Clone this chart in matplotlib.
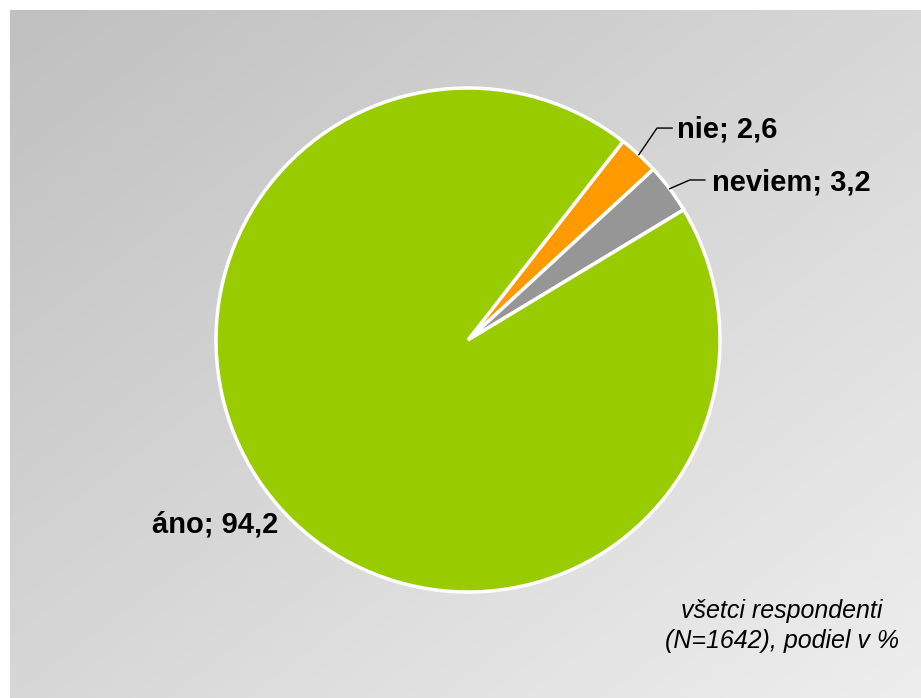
import numpy as np
import matplotlib
matplotlib.use('Agg')
import matplotlib.pyplot as plt

plt.rcParams['font.family'] = ['Liberation Sans', 'DejaVu Sans']

# Data
labels = ['nie', 'neviem', 'áno']
values = [2.6, 3.2, 94.2]
colors = ['#ff9900', '#969696', '#99cc00']
note = 'všetci respondenti\n(N=1642), podiel v %'

W, H = 921, 698
fig = plt.figure(figsize=(W / 100, H / 100), dpi=100)
fig.patch.set_facecolor('white')

# gradient background panel (light grey, darker top-left)
bg = fig.add_axes([10 / W, 0, 910 / W, 688 / H])
gx, gy = np.meshgrid(np.linspace(0, 1, 200), np.linspace(0, 1, 200))
shade = (192 + 46 * (gx + gy) / 2) / 255
bg.imshow(np.dstack([shade] * 3), aspect='auto', extent=[0, 1, 1, 0],
          interpolation='bicubic')
bg.set_axis_off()

# pie
ax = fig.add_axes([216 / W, (H - 592) / H, 504 / W, 504 / H])
wedges, _ = ax.pie(values, colors=colors, startangle=52, counterclock=False,
                   radius=1, wedgeprops=dict(edgecolor='white', linewidth=2.5))
ax.set_xlim(-1, 1)
ax.set_ylim(-1, 1)
ax.set_aspect('auto')
ax.set_axis_off()

def fmt(lbl, v):
    return f'{lbl}; {v:.1f}'.replace('.', ',')

# leader-line labels for small slices
offsets = {'nie': ((0.75, 0.841), (0.81, 0.841), (0.83, 0.835)),
           'neviem': ((0.88, 0.635), (0.94, 0.635), (0.97, 0.624))}
for w, lbl, v in zip(wedges, labels, values):
    mid = np.deg2rad((w.theta1 + w.theta2) / 2)
    x0, y0 = np.cos(mid), np.sin(mid)
    if lbl in offsets:
        elbow, end, txt = offsets[lbl]
        ax.plot([x0, elbow[0], end[0]], [y0, elbow[1], end[1]], color='black',
                lw=1.0, clip_on=False)
        ax.text(txt[0], txt[1], fmt(lbl, v), ha='left', va='center',
                fontsize=21, fontweight='bold', clip_on=False)
    else:
        ax.text(-1.004, -0.734, fmt(lbl, v), ha='center', va='center',
                fontsize=21, fontweight='bold', clip_on=False)

fig.text(782 / W, 1 - 626 / H, note, ha='center', va='center',
         fontsize=18, fontstyle='italic', linespacing=1.3)

fig.savefig('out.png', dpi=100, facecolor='white')
